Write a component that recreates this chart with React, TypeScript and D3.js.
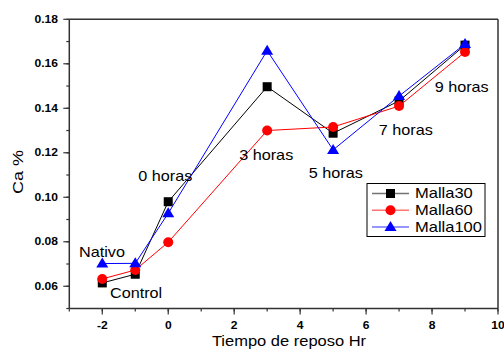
import React from "react";
import * as d3 from "d3";

const xValues = [-2, -1, 0, 3, 5, 7, 9];
const malla30 = [0.0615, 0.0654, 0.098, 0.1497, 0.1288, 0.1433, 0.1684];
const malla60 = [0.0633, 0.0673, 0.0798, 0.13, 0.1316, 0.141, 0.1653];
const malla100 = [0.0702, 0.0703, 0.0928, 0.1659, 0.1213, 0.1455, 0.1689];
const xTicks = [-2, 0, 2, 4, 6, 8, 10];
const yTicks = [0.06, 0.08, 0.1, 0.12, 0.14, 0.16, 0.18];
const seriesNames = ["Malla30", "Malla60", "Malla100"];
const annotationTexts = ["Nativo", "Control", "0 horas", "3 horas", "5 horas", "7 horas", "9 horas"];
const annotationX = [-2.706, -1.767, -0.909, 2.152, 4.264, 6.385, 8.08];
const annotationY = [0.0757, 0.0569, 0.1096, 0.1189, 0.1109, 0.1302, 0.1495];

const W = 504, H = 351;
const L = 69.3, R = 498, T = 19.3, B = 308.5;

function SText({ x, y, sx = 1, size, anchor = "start", weight = "normal", dy = "0.35em", children }: any) {
  return (
    <text
      transform={`translate(${x},${y}) scale(${sx},1)`}
      dy={dy}
      textAnchor={anchor}
      fontSize={size}
      fontWeight={weight}
    >
      {children}
    </text>
  );
}

export default function App() {
  const x = d3.scaleLinear().domain([-3, 10]).range([L, R]);
  const y = d3.scaleLinear().domain([0.05, 0.18]).range([B, T]);
  const series = [
    { name: seriesNames[0], values: malla30, color: "#000000", shape: "square" },
    { name: seriesNames[1], values: malla60, color: "#ff0000", shape: "circle" },
    { name: seriesNames[2], values: malla100, color: "#0000ff", shape: "triangle" },
  ];
  const line = d3.line<number>().x((_, i) => x(xValues[i])).y((d) => y(d));
  const marker = (shape: string, cx: number, cy: number, color: string, key: any) => {
    if (shape === "square") return <rect key={key} x={cx - 4.5} y={cy - 4.5} width={9} height={9} fill={color} />;
    if (shape === "circle") return <circle key={key} cx={cx} cy={cy} r={5} fill={color} />;
    return <path key={key} d={`M${cx},${cy - 6}L${cx + 6},${cy + 4}L${cx - 6},${cy + 4}Z`} fill={color} />;
  };
  const xMinor = d3.range(-3, 11, 1);
  const yMinor = d3.range(0.05, 0.181, 0.01);
  const font = "Liberation Sans, Arial, sans-serif";
  const axisColor = "#333";
  return (
    <svg width={W} height={H} style={{ position: "absolute", left: 0, top: 0 }} fontFamily={font}>
      <rect width={W} height={H} fill="#fff" />
      {/* frame */}
      <line x1={L} x2={R} y1={T} y2={T} stroke={axisColor} strokeWidth={1.5} />
      <line x1={R} x2={R} y1={T} y2={B} stroke={axisColor} strokeWidth={1.5} />
      <line x1={L} x2={L} y1={T} y2={B} stroke={axisColor} strokeWidth={1.5} />
      <line x1={L} x2={R} y1={B} y2={B} stroke={axisColor} strokeWidth={1.5} />
      {/* y ticks */}
      {yMinor.map((v, i) => (
        <line key={"ym" + i} x1={L} x2={L - 3} y1={y(v)} y2={y(v)} stroke={axisColor} strokeWidth={1.2} />
      ))}
      {yTicks.map((v) => (
        <g key={"yt" + v}>
          <line x1={L} x2={L - 6} y1={y(v)} y2={y(v)} stroke={axisColor} strokeWidth={1.2} />
          <SText x={58} y={y(v)} sx={1.15} size={10.5} weight="bold" anchor="end">
            {v.toFixed(2)}
          </SText>
        </g>
      ))}
      {/* x ticks */}
      {xMinor.map((v) => (
        <line key={"xm" + v} x1={x(v)} x2={x(v)} y1={B} y2={B + 3} stroke={axisColor} strokeWidth={1.2} />
      ))}
      {xTicks.map((v) => (
        <g key={"xt" + v}>
          <line x1={x(v)} x2={x(v)} y1={B} y2={B + 6} stroke={axisColor} strokeWidth={1.2} />
          <SText x={x(v)} y={325} sx={1.15} size={10.5} weight="bold" anchor="middle">
            {v}
          </SText>
        </g>
      ))}
      {/* axis labels */}
      <SText x={289} y={346} sx={1.1} size={15} anchor="middle" dy="0">Tiempo de reposo Hr</SText>
      <text transform={`translate(23,172) rotate(-90) scale(1.2,1)`} textAnchor="middle" fontSize={15}>Ca %</text>
      {/* series */}
      {series.map((s) => (
        <g key={s.name}>
          <path d={line(s.values) || ""} fill="none" stroke={s.color} strokeWidth={1} />
          {s.values.map((v, i) => marker(s.shape, x(xValues[i]), y(v), s.color, i))}
        </g>
      ))}
      {/* annotations */}
      {annotationTexts.map((t, i) => (
        <SText key={t} x={x(annotationX[i])} y={y(annotationY[i])} sx={1.08} size={15}>{t}</SText>
      ))}
      {/* legend */}
      <rect x={367} y={183.5} width={118} height={53} fill="#fff" stroke="#000" strokeWidth={1} />
      {series.map((s, i) => {
        const ly = 193.5 + i * 16.7;
        return (
          <g key={"lg" + s.name}>
            <line x1={372} x2={409} y1={ly} y2={ly} stroke={s.color} strokeOpacity={0.55} strokeWidth={1.5} />
            {marker(s.shape, 390.5, ly, s.color, "m")}
            <SText x={415} y={ly} sx={1.18} size={14}>{s.name}</SText>
          </g>
        );
      })}
    </svg>
  );
}
